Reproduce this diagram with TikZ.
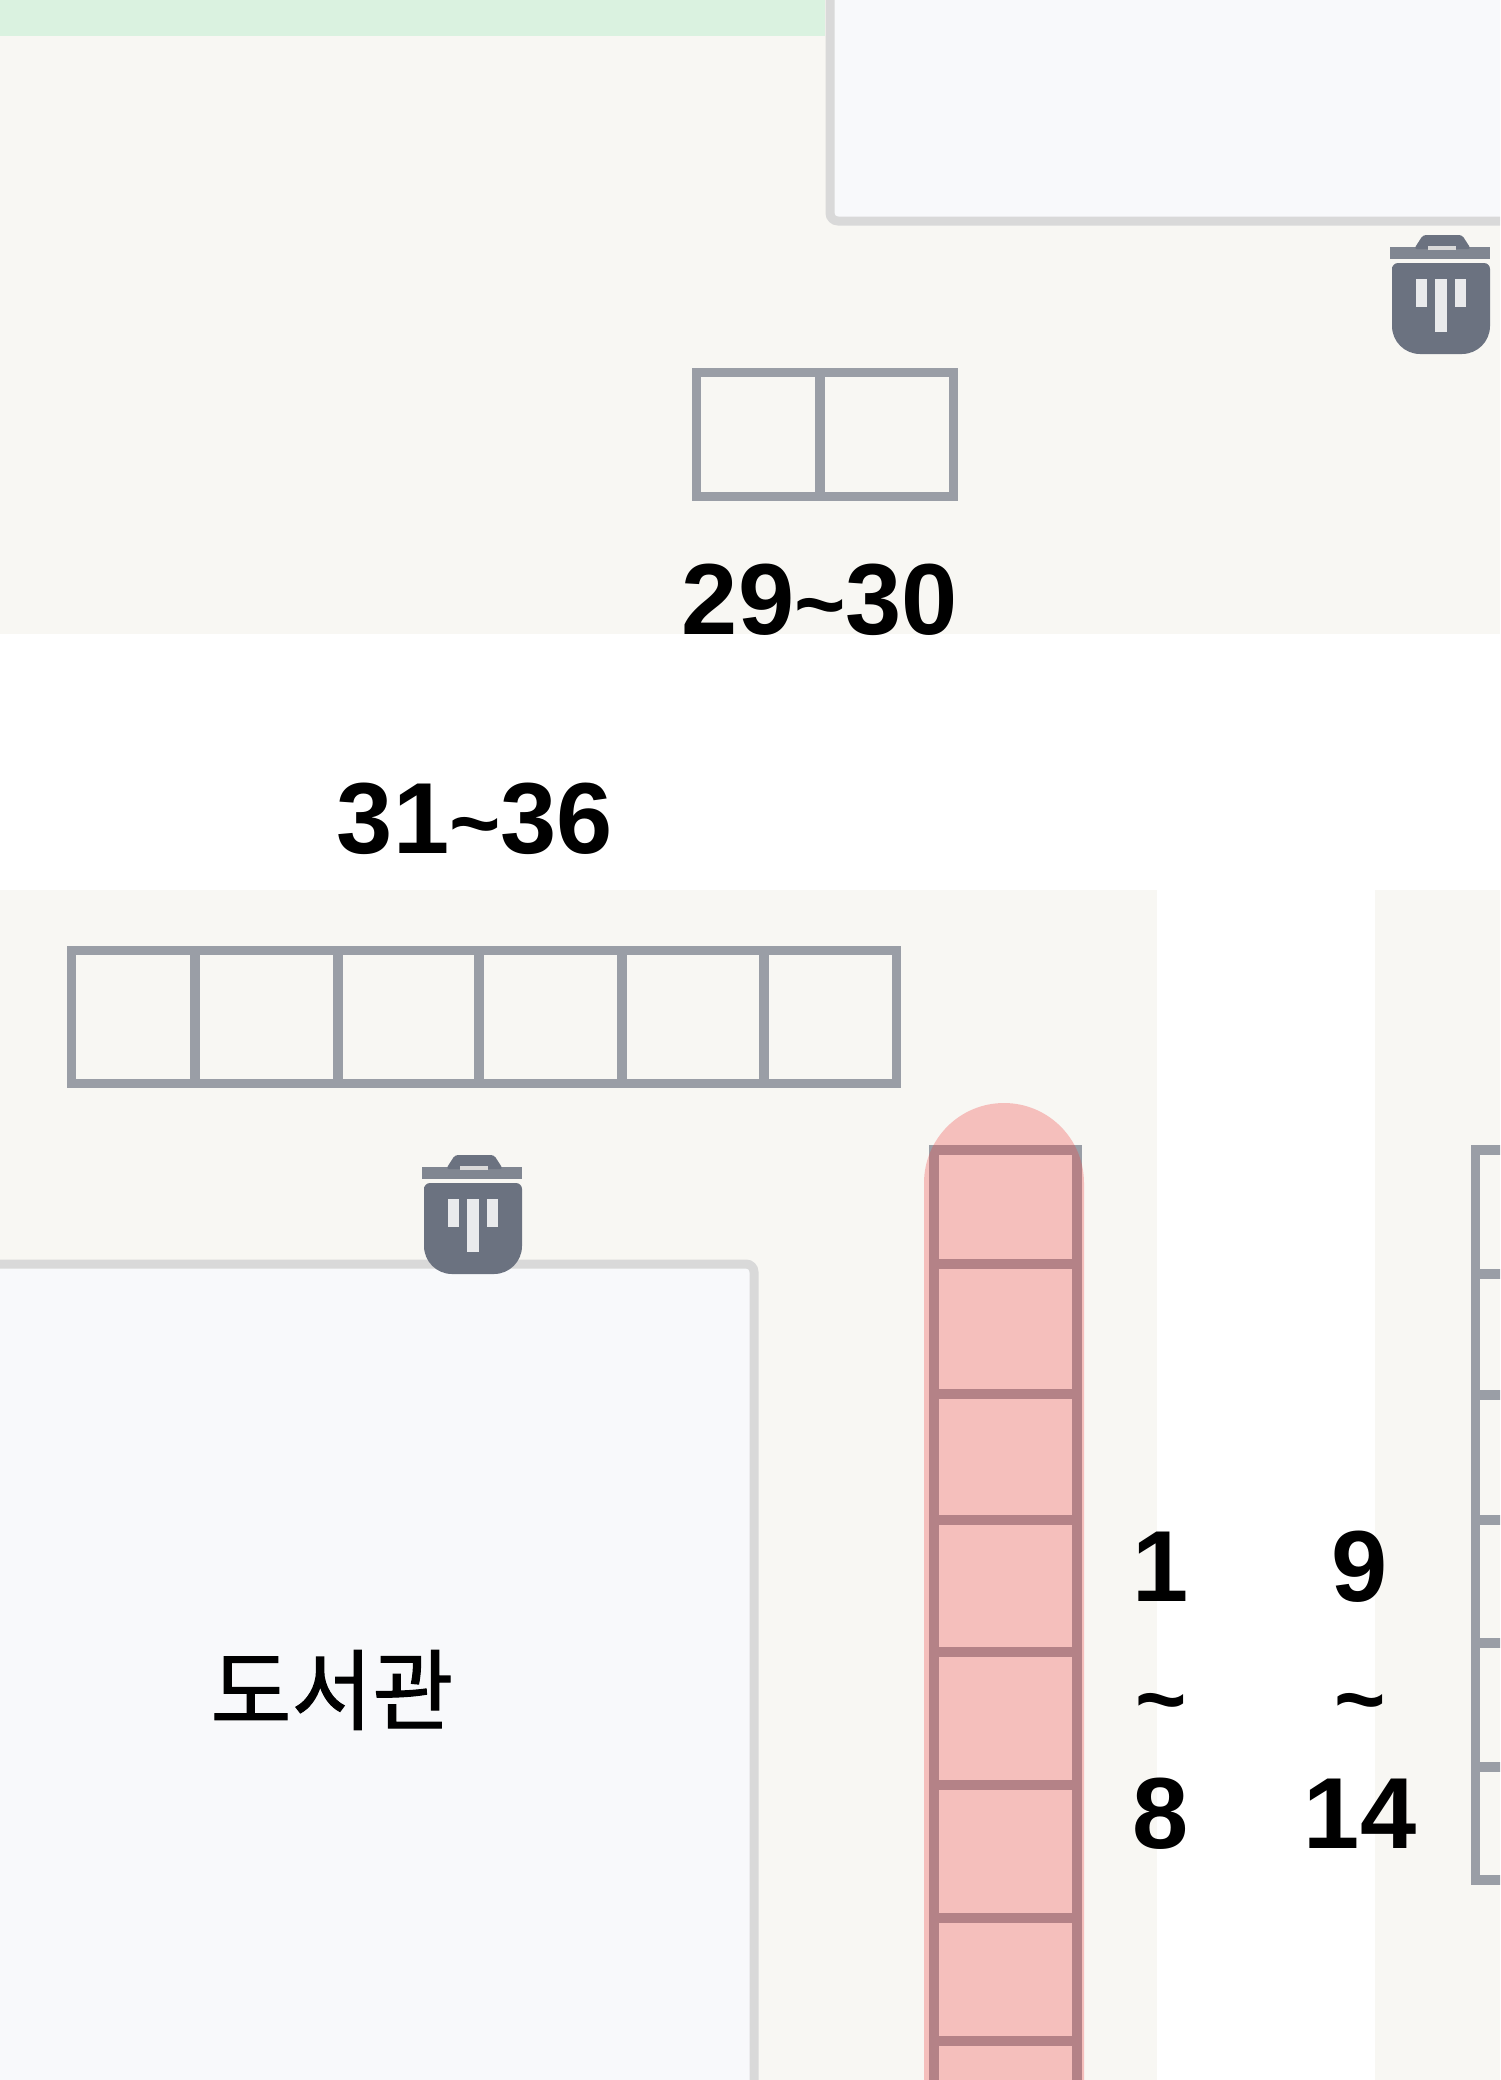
\documentclass[tikz,border=0pt]{standalone}
\usepackage{fontspec}
\setmainfont{Liberation Sans}
\newfontfamily\krfont[FakeBold=1.2]{Noto Sans CJK KR}
\definecolor{blockbg}{HTML}{F8F7F3}
\definecolor{greenzone}{HTML}{DAF2E0}
\definecolor{bldfill}{HTML}{F8F9FB}
\definecolor{bldline}{HTML}{D9D9D9}
\definecolor{slotline}{HTML}{9A9EA6}
\definecolor{binfill}{HTML}{6B7280}
\definecolor{redzone}{HTML}{EF4444}
\newcommand{\smalltilde}{{\fontsize{88}{88}\selectfont\char"007E}}
\tikzset{
  x=1pt,y=-1pt,
  block/.style={fill=blockbg,draw=none},
  building/.style={fill=bldfill,draw=bldline,line width=9pt,rounded corners=8pt},
  slotrow/.style={draw=slotline,line width=9.5pt,line cap=butt},
  numlabel/.style={font=\fontsize{101}{101}\selectfont\bfseries,inner sep=0pt,anchor=base,text=black},
  trashbin/.pic={
    \fill[binfill,rounded corners=6pt] (2,60) -- (2,28) -- (100,28) -- (100,60)
      [rounded corners=28pt] -- (100,119) -- (2,119) -- cycle;
    \fill[binfill!85!blockbg] (0,12) rectangle (100,24);
    \fill[binfill,rounded corners=3pt] (24,14) -- (33,0) -- (72,0) -- (81,14) -- cycle;
    \fill[bldline] (38,11) rectangle (66,15);
    \fill[white!85!binfill] (26,44) rectangle (37,72);
    \fill[white!85!binfill] (45,44) rectangle (57,97);
    \fill[white!85!binfill] (65,44) rectangle (76,72);
  }
}
\begin{document}
\begin{tikzpicture}
\useasboundingbox (0,0) rectangle (1500,2080);
\clip (0,0) rectangle (1500,2080);
\fill[white] (0,0) rectangle (1500,2080);
% ground
\fill[block] (0,0) rectangle (1500,634);
\fill[block] (0,890) rectangle (1157,2080);
\fill[block] (1375,890) rectangle (1500,2080);
\fill[greenzone] (0,0) rectangle (825,36);
% buildings
\draw[building] (830,-40) rectangle (1560,221);
\draw[building] (-40,1264) rectangle (754,2140);
\node[inner sep=0pt,font=\krfont\fontsize{88}{88}\selectfont] (library) at (332,1690) {도서관};
% slots 29-30
\draw[slotrow] (696.5,372.5) rectangle (953.5,496.5);
\draw[slotrow] (820,372.5) -- (820,496.5);
\node[numlabel] (labelA) at (820,634) {29\smalltilde 30};
% slots 31-36
\node[numlabel] (labelB) at (475,853) {31\smalltilde 36};
\draw[slotrow] (71.5,950.5) rectangle (896.5,1083.5);
\foreach \xx in {195,338,479,622,764}{\draw[slotrow] (\xx,950.5) -- (\xx,1083.5);}
% column 1-8
\draw[slotrow] (934,1150) -- (934,2100);
\draw[slotrow] (1077,1150) -- (1077,2100);
\draw[slotrow] (929.25,1150) -- (1081.75,1150);
\foreach \yy in {1264,1394,1520,1652,1785,1918,2041}{\draw[slotrow] (934,\yy) -- (1077,\yy);}
\fill[redzone,fill opacity=0.31,rounded corners=80pt] (924,1103) rectangle (1084,2300);
% column 9-14
\draw[slotrow] (1510,1150) -- (1475.5,1150) -- (1475.5,1880) -- (1510,1880);
\foreach \yy in {1274,1395,1520,1643,1767}{\draw[slotrow] (1475.5,\yy) -- (1510,\yy);}
% labels of the columns
\node[numlabel] (one) at (1161,1601) {1};
\node[numlabel] (tildeA) at (1161,1729) {\smalltilde};
\node[numlabel] (eight) at (1161,1848) {8};
\node[numlabel] (nine) at (1360,1601) {9};
\node[numlabel] (tildeB) at (1360,1729) {\smalltilde};
\node[numlabel] (fourteen) at (1360,1848) {14};
% bins
\pic at (1390,235) {trashbin};
\pic at (422,1155) {trashbin};
\end{tikzpicture}
\end{document}
